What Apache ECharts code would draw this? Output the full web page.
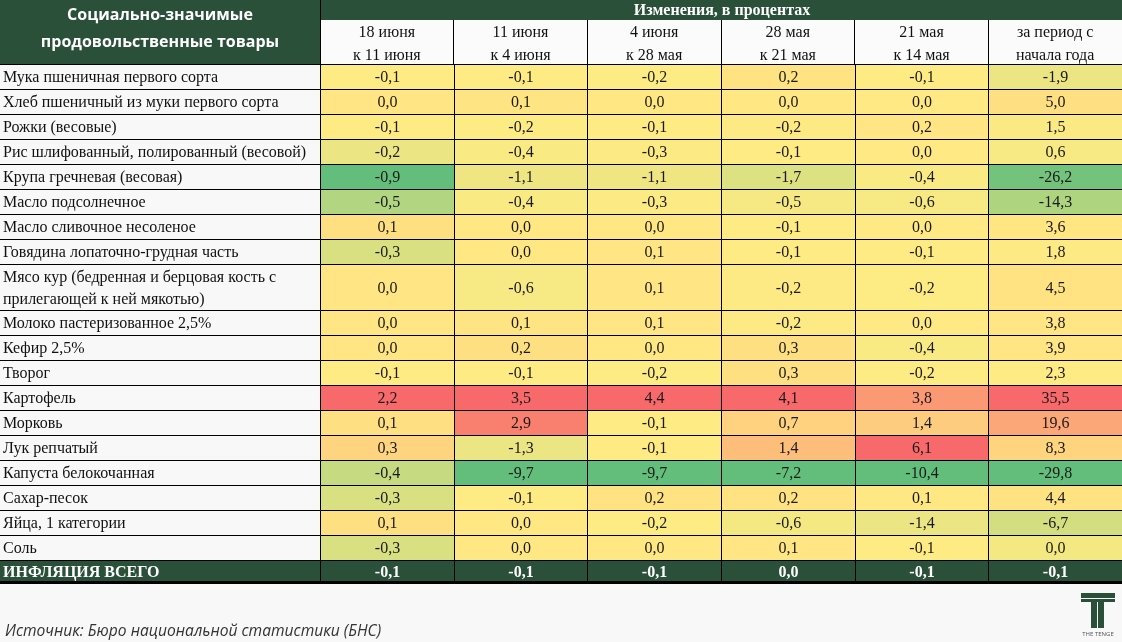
<!DOCTYPE html>
<html><head><meta charset="utf-8">
<script src="https://cdn.jsdelivr.net/npm/echarts@6/dist/echarts.min.js"></script>
<style>html,body{margin:0;padding:0;background:#f8f8f8}#c{width:1122px;height:642px}</style>
</head><body><div id="c"></div><script>
// ---------- DATA ----------
const products = [
  'Мука пшеничная первого сорта',
  'Хлеб пшеничный из муки первого сорта',
  'Рожки (весовые)',
  'Рис шлифованный, полированный (весовой)',
  'Крупа гречневая (весовая)',
  'Масло подсолнечное',
  'Масло сливочное несоленое',
  'Говядина лопаточно-грудная часть',
  'Мясо кур (бедренная и берцовая кость с\nприлегающей к ней мякотью)',
  'Молоко пастеризованное 2,5%',
  'Кефир 2,5%',
  'Творог',
  'Картофель',
  'Морковь',
  'Лук репчатый',
  'Капуста белокочанная',
  'Сахар-песок',
  'Яйца, 1 категории',
  'Соль'
];
const columnHeaders = ['18 июня\nк 11 июня', '11 июня\nк 4 июня', '4 июня\nк 28 мая', '28 мая\nк 21 мая', '21 мая\nк 14 мая', 'за период с\nначала года'];
const jun18to11 = [-0.1, 0.0, -0.1, -0.2, -0.9, -0.5, 0.1, -0.3, 0.0, 0.0, 0.0, -0.1, 2.2, 0.1, 0.3, -0.4, -0.3, 0.1, -0.3];
const jun11to4  = [-0.1, 0.1, -0.2, -0.4, -1.1, -0.4, 0.0, 0.0, -0.6, 0.1, 0.2, -0.1, 3.5, 2.9, -1.3, -9.7, -0.1, 0.0, 0.0];
const jun4toMay28 = [-0.2, 0.0, -0.1, -0.3, -1.1, -0.3, 0.0, 0.1, 0.1, 0.1, 0.0, -0.2, 4.4, -0.1, -0.1, -9.7, 0.2, -0.2, 0.0];
const may28to21 = [0.2, 0.0, -0.2, -0.1, -1.7, -0.5, -0.1, -0.1, -0.2, -0.2, 0.3, 0.3, 4.1, 0.7, 1.4, -7.2, 0.2, -0.6, 0.1];
const may21to14 = [-0.1, 0.0, 0.2, 0.0, -0.4, -0.6, 0.0, -0.1, -0.2, 0.0, -0.4, -0.2, 3.8, 1.4, 6.1, -10.4, 0.1, -1.4, -0.1];
const sinceYearStart = [-1.9, 5.0, 1.5, 0.6, -26.2, -14.3, 3.6, 1.8, 4.5, 3.8, 3.9, 2.3, 35.5, 19.6, 8.3, -29.8, 4.4, -6.7, 0.0];
const totalLabel = 'ИНФЛЯЦИЯ ВСЕГО';
const totals = [-0.1, -0.1, -0.1, 0.0, -0.1, -0.1];
const titleChanges = 'Изменения, в процентах';
const titleLeft = 'Социально-значимые\nпродовольственные товары';
const sourceText = 'Источник: Бюро национальной статистики (БНС)';
const columns = [jun18to11, jun11to4, jun4toMay28, may28to21, may21to14, sinceYearStart];

// ---------- LAYOUT helpers ----------
const GREEN = '#2a5039';
const TALL = 1.84, TOTAL_SPAN = 0.88;
const spans = products.map(p => p.indexOf('\n') >= 0 ? TALL : 1).concat([TOTAL_SPAN]);
const tops = []; let acc = 0;
spans.forEach(s => { tops.push(acc); acc += s; });
const yMax = acc;
const fmt = v => v.toFixed(1).replace('.', ',');

// Excel-like 3-colour scale per column (min / 50th percentile / max)
const cellData = [];
columns.forEach((vals, c) => {
  const s = vals.slice().sort((a, b) => a - b);
  const mn = s[0], mx = s[s.length - 1], md = s[Math.floor(s.length / 2)];
  vals.forEach((v, r) => {
    let t = 0;
    if (v < md) t = (v - md) / (md - mn);
    else if (v > md) t = (v - md) / (mx - md);
    cellData.push([c, tops[r], tops[r] + spans[r], v, t]);
  });
});
const totalData = totals.map((v, c) => [c, tops[products.length], yMax, v]);
const labelData = products.concat([totalLabel]).map((p, r) => [0, tops[r], tops[r] + spans[r]]);

const SERIF = '"Liberation Serif", "Times New Roman", serif';

function renderLabel(params, api) {
  const i = params.dataIndex;
  const isTotal = i === products.length;
  const p0 = api.coord([0, api.value(1)]);
  const p1 = api.coord([1, api.value(2)]);
  const y0 = Math.round(p0[1]) + 0.5, y1 = Math.round(p1[1]) + 0.5;
  const x0 = p0[0], x1 = p1[0];
  const text = isTotal ? totalLabel : products[i];
  const children = [
    { type: 'rect', shape: { x: x0, y: y0, width: x1 - x0, height: y1 - y0 }, style: { fill: isTotal ? GREEN : '#f8f8f8' } },
    { type: 'line', shape: { x1: x0, y1: y0, x2: x1, y2: y0 }, style: { stroke: '#000', lineWidth: 1 } },
    { type: 'line', shape: { x1: x0, y1: y1, x2: x1, y2: y1 }, style: { stroke: '#000', lineWidth: isTotal ? 3 : 1 } },
    { type: 'text', x: x0 + 3, y: (y0 + y1) / 2 + 1, style: { text: text, fill: isTotal ? '#fff' : '#111', font: (isTotal ? 'bold ' : '') + '16px ' + SERIF, lineHeight: 22, align: 'left', verticalAlign: 'middle' } }
  ];
  return { type: 'group', children: children };
}

function renderCell(params, api, isTotal) {
  const c = api.value(0);
  const p0 = api.coord([c, api.value(1)]);
  const p1 = api.coord([c, api.value(2)]);
  const w = api.size([1, 0])[0];
  const x0 = Math.round(p0[0] - w / 2) + 0.5;
  const x1 = Math.round(p0[0] + w / 2) + 0.5;
  const y0 = Math.round(p0[1]) + 0.5, y1 = Math.round(p1[1]) + 0.5;
  const v = api.value(3);
  const fill = isTotal ? GREEN : api.visual('color');
  const children = [
    { type: 'rect', shape: { x: x0, y: y0, width: x1 - x0, height: y1 - y0 }, style: { fill: fill, stroke: '#000', lineWidth: 1 } },
    { type: 'text', x: (x0 + x1) / 2, y: (y0 + y1) / 2 + 1, style: { text: fmt(v), fill: isTotal ? '#fff' : '#1a1a1a', font: (isTotal ? 'bold ' : '') + '16px ' + SERIF, align: 'center', verticalAlign: 'middle' } }
  ];
  if (isTotal) children.push({ type: 'line', shape: { x1: x0 - 1, y1: y1, x2: x1 + 1, y2: y1 }, style: { stroke: '#000', lineWidth: 3 } });
  return { type: 'group', children: children };
}

const chart = echarts.init(document.getElementById('c'), null, { renderer: 'canvas' });
chart.setOption({
  backgroundColor: '#f8f8f8',
  animation: false,
  grid: [
    { left: 0, top: 64, width: 320, height: 518 },
    { left: 320, top: 64, width: 806, height: 518 }
  ],
  xAxis: [
    { gridIndex: 0, type: 'value', min: 0, max: 1, show: false },
    { gridIndex: 1, type: 'category', position: 'top', data: columnHeaders, z: 10,
      axisLine: { show: true, lineStyle: { color: '#000', width: 1 } },
      axisTick: { show: true, length: 44, inside: false, lineStyle: { color: '#000', width: 1 } },
      axisLabel: { margin: 20, verticalAlign: 'middle', lineHeight: 23, fontSize: 16, fontFamily: SERIF, color: '#111' },
      splitLine: { show: false } }
  ],
  yAxis: [
    { gridIndex: 0, type: 'value', inverse: true, min: 0, max: yMax, show: false },
    { gridIndex: 1, type: 'value', inverse: true, min: 0, max: yMax, show: false }
  ],
  visualMap: {
    type: 'continuous', show: false, seriesIndex: 1, dimension: 4, min: -1, max: 1,
    inRange: { color: ['#63BE7B', '#FFEB84', '#F8696B'] }
  },
  series: [
    { type: 'custom', xAxisIndex: 0, yAxisIndex: 0, data: labelData, encode: { x: 0, y: [1, 2] }, renderItem: renderLabel, clip: false },
    { type: 'custom', xAxisIndex: 1, yAxisIndex: 1, data: cellData, encode: { x: 0, y: [1, 2] }, renderItem: (p, a) => renderCell(p, a, false), clip: false },
    { type: 'custom', xAxisIndex: 1, yAxisIndex: 1, data: totalData, encode: { x: 0, y: [1, 2] }, renderItem: (p, a) => renderCell(p, a, true), clip: false }
  ],
  graphic: [
    { type: 'rect', z: -1, shape: { x: 320, y: 20, width: 802, height: 44 }, style: { fill: '#fbfbfb' } },
    { type: 'rect', z: 1, shape: { x: 0, y: 0, width: 1122, height: 20 }, style: { fill: GREEN } },
    { type: 'rect', z: 1, shape: { x: 0, y: 0, width: 320, height: 64 }, style: { fill: GREEN } },
    { type: 'line', z: 2, shape: { x1: 320.5, y1: 0, x2: 320.5, y2: 64 }, style: { stroke: '#000', lineWidth: 1 } },
    { type: 'text', z: 3, x: 160, y: 29, style: { text: titleLeft, fill: '#fff', font: 'bold 16px "Open Sans", sans-serif', lineHeight: 27, align: 'center', verticalAlign: 'middle' } },
    { type: 'text', z: 3, x: 722, y: 11, style: { text: titleChanges, fill: '#fff', font: 'bold 16px ' + SERIF, align: 'center', verticalAlign: 'middle' } },
    { type: 'text', z: 3, x: 5, y: 632, style: { text: sourceText, fill: '#333', font: 'italic 15.6px "Open Sans", sans-serif', align: 'left', verticalAlign: 'middle' } },
    { type: 'group', z: 3, children: [
      { type: 'rect', shape: { x: 1081, y: 593, width: 34, height: 5 }, style: { fill: GREEN } },
      { type: 'rect', shape: { x: 1081, y: 599, width: 34, height: 3 }, style: { fill: GREEN } },
      { type: 'rect', shape: { x: 1091, y: 602, width: 6, height: 26 }, style: { fill: GREEN } },
      { type: 'rect', shape: { x: 1098, y: 602, width: 6, height: 26 }, style: { fill: GREEN } },
      { type: 'text', x: 1098, y: 634, style: { text: 'THE TENGE', fill: '#555', font: '6px "Open Sans", sans-serif', align: 'center', verticalAlign: 'middle' } }
    ] }
  ]
});
</script></body></html>
